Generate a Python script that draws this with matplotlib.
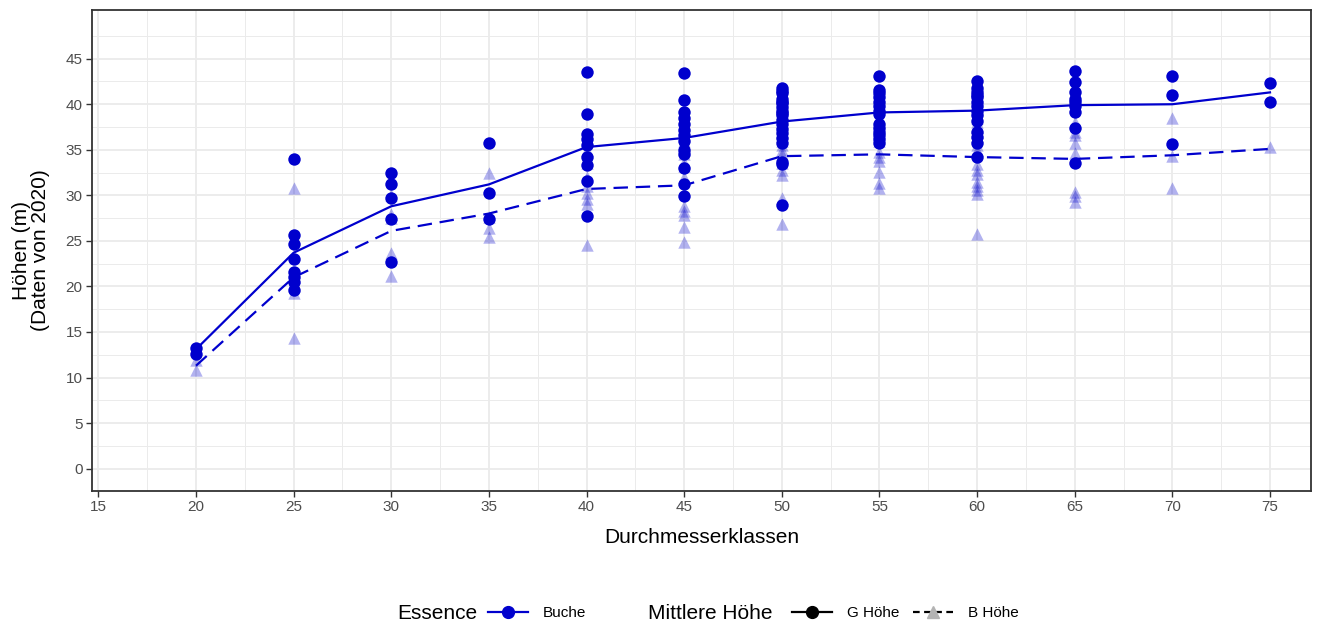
import numpy as np
import matplotlib.pyplot as plt
from matplotlib.lines import Line2D

plt.rcParams['font.family'] = ['Liberation Sans', 'DejaVu Sans']

# Durchmesserklassen (cm)
klassen = [20, 25, 30, 35, 40, 45, 50, 55, 60, 65, 70, 75]

# Einzelhoehen je Klasse, G Hoehe (Kreise)
g_hoehe = {
    20: [13.2, 12.6],
    25: [34.0, 25.6, 24.7, 23.0, 21.6, 21.0, 20.5, 19.6],
    30: [32.4, 31.2, 29.7, 27.4, 22.7],
    35: [35.8, 30.3, 27.4],
    40: [43.5, 38.9, 36.7, 36.2, 35.5, 34.2, 33.3, 31.6, 27.7],
    45: [43.4, 40.5, 39.2, 38.5, 37.8, 37.2, 36.6, 36.0, 35.0, 34.5, 33.0, 31.2, 29.9],
    50: [41.8, 41.5, 41.2, 40.6, 40.3, 40.1, 39.7, 39.3, 39.0, 38.8, 38.3, 37.8,
         37.3, 36.8, 36.3, 35.8, 33.7, 33.4, 28.9],
    55: [43.1, 41.6, 41.2, 40.8, 40.3, 39.8, 39.3, 38.9, 37.8, 37.4, 37.0, 36.6,
         36.2, 35.8],
    60: [42.6, 41.8, 41.3, 41.0, 40.8, 40.3, 39.8, 39.3, 38.8, 38.2, 36.9, 36.4,
         35.8, 34.2],
    65: [43.7, 42.4, 41.3, 40.6, 40.3, 39.8, 39.2, 37.4, 33.5],
    70: [43.1, 41.0, 35.6],
    75: [42.3, 40.2],
}

# Einzelhoehen je Klasse, B Hoehe (Dreiecke)
b_hoehe = {
    20: [11.9, 10.8],
    25: [30.8, 21.0, 20.0, 19.3, 14.3],
    30: [30.0, 28.0, 27.5, 23.7, 21.1],
    35: [32.4, 27.6, 26.4, 25.4],
    40: [35.0, 33.5, 32.0, 31.0, 30.3, 29.6, 29.0, 24.6],
    45: [36.0, 35.0, 34.5, 33.7, 33.2, 32.0, 28.8, 28.3, 27.8, 26.5, 24.9],
    50: [39.0, 38.0, 37.0, 36.5, 36.0, 35.5, 35.0, 34.5, 33.5, 32.8, 32.2, 29.7, 26.9],
    55: [38.0, 37.0, 36.5, 36.0, 34.8, 34.2, 33.8, 32.6, 31.3, 30.8],
    60: [39.5, 38.5, 38.0, 37.5, 37.0, 36.5, 35.5, 35.0, 33.4, 32.8, 32.3, 31.5,
         31.0, 30.6, 30.2, 25.8],
    65: [38.0, 37.0, 36.6, 35.7, 34.6, 30.4, 29.9, 29.3],
    70: [38.5, 34.3, 30.8],
    75: [35.3],
}

# mittlere Hoehen je Klasse
g_mittel = [13.1, 23.7, 28.8, 31.2, 35.3, 36.3, 38.1, 39.1, 39.3, 39.9, 40.0, 41.3]
b_mittel = [11.3, 21.0, 26.1, 28.0, 30.7, 31.1, 34.3, 34.5, 34.2, 34.0, 34.4, 35.1]

farbe = '#0000CD'
grid_col = '#EBEBEB'
text_col = '#4D4D4D'
strich = (0, (6.5, 3.5))

fig = plt.figure(figsize=(13.28, 6.25), dpi=100)
ax = fig.add_axes([0.0695, 0.2152, 0.9177, 0.7696])

for k in klassen:
    yb = b_hoehe[k]
    ax.scatter([k] * len(yb), yb, marker='^', s=80, color=farbe, alpha=0.3,
               linewidths=0, zorder=3)
for k in klassen:
    yg = g_hoehe[k]
    ax.scatter([k] * len(yg), yg, marker='o', s=80, color=farbe,
               linewidths=0, zorder=4)

ax.plot(klassen, g_mittel, color=farbe, lw=1.6, zorder=5)
ax.plot(klassen, b_mittel, color=farbe, lw=1.6, ls=strich, zorder=5)

ax.set_xlim(14.69, 77.1)
ax.set_ylim(-2.4, 50.4)
ax.set_xticks(np.arange(15, 76, 5))
ax.set_yticks(np.arange(0, 46, 5))
ax.set_xticks(np.arange(17.5, 77.5, 5), minor=True)
ax.set_yticks(np.arange(2.5, 50, 5), minor=True)
ax.grid(True, which='major', color=grid_col, lw=1.3, zorder=0)
ax.grid(True, which='minor', color=grid_col, lw=0.7, zorder=0)
ax.set_axisbelow(True)
ax.tick_params(which='major', length=4, width=1, color='#333333',
               labelsize=11, labelcolor=text_col, pad=3)
ax.tick_params(which='minor', length=0)
for sp in ax.spines.values():
    sp.set_color('#333333')
    sp.set_linewidth(1.3)

ax.set_xlabel('Durchmesserklassen', fontsize=15, labelpad=10)
ax.set_ylabel('Höhen (m)\n(Daten von 2020)', fontsize=15, labelpad=11,
              linespacing=1.05)

# Legende unten: zwei Gruppen mit Titel links
y_leg = 0.0185
fig.text(0.299, y_leg, 'Essence', fontsize=15, va='center')
h_buche = Line2D([], [], color=farbe, lw=1.6, marker='o', markersize=8.5)
fig.legend(handles=[h_buche], labels=['Buche'], loc='center left',
           bbox_to_anchor=(0.363, y_leg), frameon=False, fontsize=11,
           handlelength=2.6, handletextpad=1.0, borderaxespad=0.0)

fig.text(0.488, y_leg, 'Mittlere Höhe', fontsize=15, va='center')
h_g = Line2D([], [], color='black', lw=1.6, marker='o', markersize=8.5)
h_b = Line2D([], [], color='black', lw=1.6, ls=(0, (3, 2)), marker='^',
             markersize=8.5, markerfacecolor='#B3B3B3', markeredgecolor='#B3B3B3')
fig.legend(handles=[h_g, h_b], labels=['G Höhe', 'B Höhe'], loc='center left',
           bbox_to_anchor=(0.592, y_leg), frameon=False, fontsize=11, ncol=2,
           handlelength=2.6, handletextpad=1.0, columnspacing=0.9,
           borderaxespad=0.0)

fig.savefig('out.png', dpi=100)
